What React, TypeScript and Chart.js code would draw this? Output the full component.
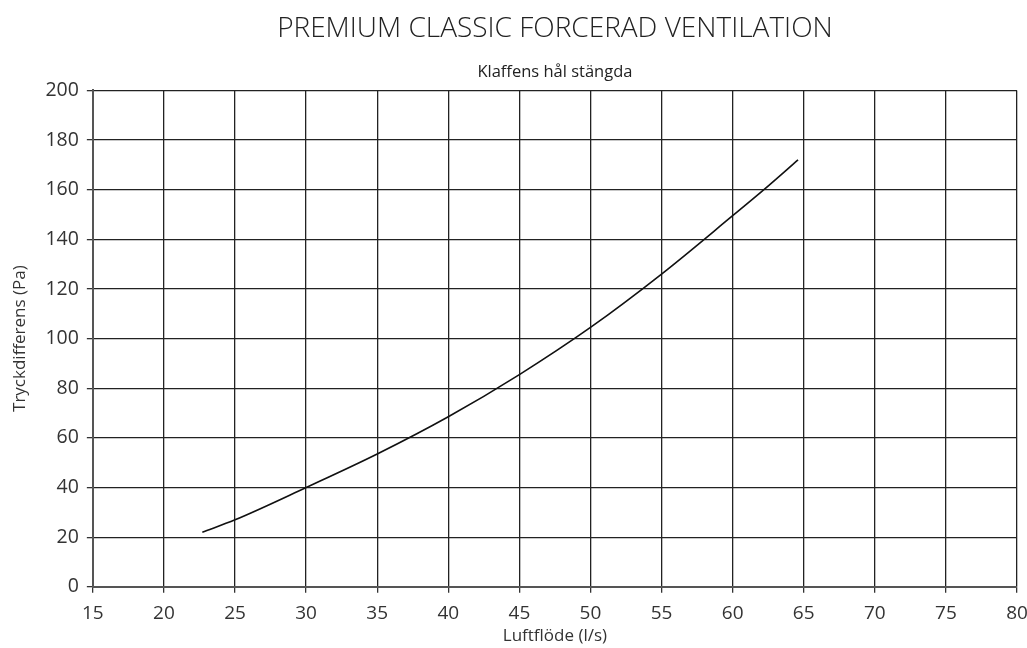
import React, { useEffect, useRef } from "react";
import { Chart, registerables } from "chart.js";

Chart.register(...registerables);

const flowValues = [22.7, 25, 30, 35, 40, 45, 50, 55, 60, 62.2, 64.6];
const pressureValues = [22, 27, 40, 53.5, 68.5, 85.5, 104.5, 126, 149.5, 160, 172];

const titleText = "PREMIUM CLASSIC FORCERAD VENTILATION";
const subtitleText = "Klaffens hål stängda";
const xTitle = "Luftflöde (l/s)";
const yTitle = "Tryckdifferens (Pa)";

const FONT = "'Open Sans', 'Noto Sans', sans-serif";

export default function App() {
  const ref = useRef<HTMLCanvasElement | null>(null);

  useEffect(() => {
    if (!ref.current) return;
    const chart = new Chart(ref.current, {
      type: "line",
      data: {
        datasets: [
          {
            data: flowValues.map((x, i) => ({ x, y: pressureValues[i] })),
            borderColor: "#111",
            borderWidth: 1.6,
            pointRadius: 0,
            cubicInterpolationMode: "monotone",
            fill: false,
          },
        ],
      },
      options: {
        animation: false,
        responsive: true,
        maintainAspectRatio: false,
        layout: { padding: { left: 4, right: 0, top: 6, bottom: 2 } },
        plugins: {
          legend: { display: false },
          tooltip: { enabled: false },
          title: {
            display: true,
            text: titleText,
            fullSize: false,
            color: "#222",
            font: { family: FONT, size: 28, weight: "300" as any, lineHeight: 1.2 },
            padding: { top: 6, bottom: 6 },
          },
          subtitle: {
            display: true,
            text: subtitleText,
            fullSize: false,
            color: "#222",
            font: { family: FONT, size: 16.5, weight: "400" as any, lineHeight: 1.2 },
            padding: { top: 11, bottom: 8 },
          },
        },
        scales: {
          x: {
            type: "linear",
            min: 15,
            max: 80,
            afterFit: (s: any) => {
              s.paddingRight = 10;
              s.paddingLeft = 0;
            },
            ticks: {
              stepSize: 5,
              color: "#333",
              font: { family: FONT, size: 19, lineHeight: 1.2 },
              padding: 9,
            },
            grid: { color: "#222", lineWidth: 1.3, tickLength: 6, tickColor: "#333" },
            border: { color: "#555", width: 2 },
            title: {
              display: true,
              text: xTitle,
              color: "#333",
              font: { family: FONT, size: 17, lineHeight: 1.2 },
              padding: { top: -8, bottom: 0 },
            },
          },
          y: {
            min: 0,
            max: 200,
            ticks: {
              stepSize: 20,
              color: "#333",
              font: { family: FONT, size: 19.5, lineHeight: 1.2 },
              padding: 8,
            },
            grid: { color: "#222", lineWidth: 1.3, tickLength: 6, tickColor: "#333" },
            border: { color: "#555", width: 2 },
            title: {
              display: true,
              text: yTitle,
              color: "#333",
              font: { family: FONT, size: 17, lineHeight: 1.2 },
              padding: { top: 6, bottom: 7 },
            },
          },
        },
      },
    });
    return () => chart.destroy();
  }, []);

  return (
    <div style={{ position: "fixed", left: 0, top: 0, width: 1027, height: 648, background: "#fff" }}>
      <canvas ref={ref} />
    </div>
  );
}
